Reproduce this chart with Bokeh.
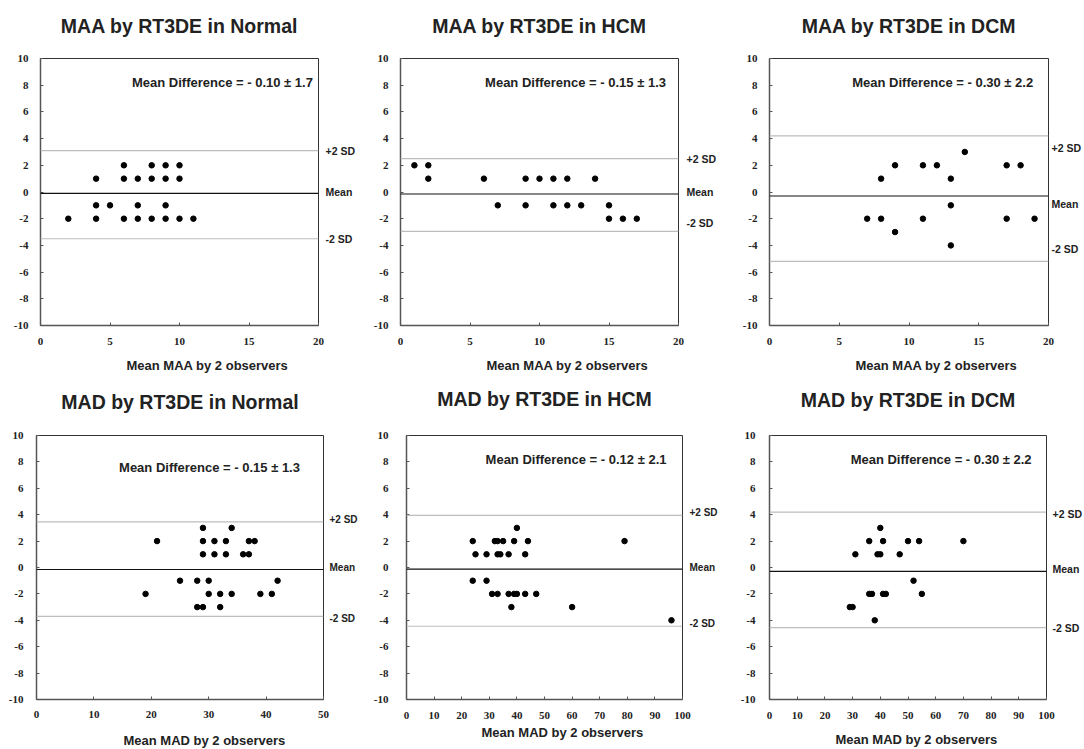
from bokeh.plotting import figure
from bokeh.layouts import column, row
from bokeh.models import Span, Label, Range1d, FixedTicker, LinearAxis, CustomJSTickFormatter, Title
from bokeh.embed import file_html
from bokeh.resources import INLINE

# ---- data: Bland-Altman points (mean of 2 observers, difference) ----
maa_normal_x = [6, 8, 9, 10, 4, 6, 7, 8, 9, 10, 4, 5, 7, 9, 2, 4, 6, 7, 8, 9, 10, 11]
maa_normal_y = [2, 2, 2, 2, 1, 1, 1, 1, 1, 1, -1, -1, -1, -1, -2, -2, -2, -2, -2, -2, -2, -2]

maa_hcm_x = [1, 2, 2, 6, 9, 10, 11, 12, 14, 7, 9, 11, 12, 13, 15, 15, 16, 17]
maa_hcm_y = [2, 2, 1, 1, 1, 1, 1, 1, 1, -1, -1, -1, -1, -1, -1, -2, -2, -2]

maa_dcm_x = [14, 9, 11, 12, 17, 18, 8, 13, 13, 7, 8, 11, 17, 19, 9, 13]
maa_dcm_y = [3, 2, 2, 2, 2, 2, 1, 1, -1, -2, -2, -2, -2, -2, -3, -4]

mad_normal_x = [29, 34, 21, 29, 31, 33, 37, 38, 29, 31, 33, 36, 37,
                25, 28, 30, 42, 19, 30, 32, 34, 39, 41, 28, 29, 32]
mad_normal_y = [3, 3, 2, 2, 2, 2, 2, 2, 1, 1, 1, 1, 1,
                -1, -1, -1, -1, -2, -2, -2, -2, -2, -2, -3, -3, -3]

mad_hcm_x = [40, 24, 32, 33, 35, 39, 44, 79, 25, 29, 33, 34, 37, 43,
             24, 29, 31, 33, 37, 39, 40, 43, 47, 38, 60, 96]
mad_hcm_y = [3, 2, 2, 2, 2, 2, 2, 2, 1, 1, 1, 1, 1, 1,
             -1, -1, -2, -2, -2, -2, -2, -2, -2, -3, -3, -4]

mad_dcm_x = [40, 36, 41, 50, 54, 70, 31, 39, 40, 47, 52, 36, 37, 41, 42, 55, 29, 30, 38]
mad_dcm_y = [3, 2, 2, 2, 2, 2, 1, 1, 1, 1, -1, -2, -2, -2, -2, -2, -3, -3, -4]

# ---- summary statistics ----
titles = ["MAA by RT3DE in Normal", "MAA by RT3DE in HCM", "MAA by RT3DE in DCM",
          "MAD by RT3DE in Normal", "MAD by RT3DE in HCM", "MAD by RT3DE in DCM"]
x_labels = ["Mean MAA by 2 observers"] * 3 + ["Mean MAD by 2 observers"] * 3
mean_diff = [-0.10, -0.15, -0.30, -0.15, -0.12, -0.30]
sd_diff = [1.7, 1.3, 2.2, 1.3, 2.1, 2.2]
upper_limit = [3.1, 2.5, 4.2, 3.45, 3.95, 4.2]
lower_limit = [-3.5, -2.95, -5.2, -3.7, -4.45, -4.55]
side_names = ["+2 SD", "Mean", "-2 SD"]

# ---- axis ticks ----
maa_ticks = [0, 5, 10, 15, 20]
mad_normal_ticks = [0, 10, 20, 30, 40, 50]
mad_ticks = [0, 10, 20, 30, 40, 50, 60, 70, 80, 90, 100]
diff_ticks = [-10, -8, -6, -4, -2, 0, 2, 4, 6, 8, 10]

series = [
    (maa_normal_x, maa_normal_y, maa_ticks),
    (maa_hcm_x, maa_hcm_y, maa_ticks),
    (maa_dcm_x, maa_dcm_y, maa_ticks),
    (mad_normal_x, mad_normal_y, mad_normal_ticks),
    (mad_hcm_x, mad_hcm_y, mad_ticks),
    (mad_dcm_x, mad_dcm_y, mad_ticks),
]

# ---- per-panel geometry and text placement ----
# (width, height, border_left, border_right, border_top, border_bottom)
boxes = [
    (360, 377, 40, 42, 58, 52),
    (360, 377, 40, 42, 58, 52),
    (364, 377, 49, 36, 58, 52),
    (360, 372, 36, 33, 58, 50),
    (360, 372, 46, 37, 58, 50),
    (364, 372, 49, 37, 58, 50),
]
# mean-difference text anchor (right edge x, centre y, data units)
md_pos = [(19.6, 8.2), (19.1, 8.2), (18.9, 8.2), (45.9, 7.55), (94.2, 8.2), (94.6, 8.2)]
# vertical nudge of the side captions (+2 SD, Mean, -2 SD), data units
side_shift = [(0, 0.1, 0), (0, 0.15, 0.6), (-0.9, -0.6, 0.95),
              (0.2, 0.15, -0.15), (0.2, 0.1, 0.2), (-0.15, 0.2, 0)]
# side caption gap from frame (px) and font size (px)
side_gap = [7, 8, 3, 6, 7, 6]
side_fs = [10.5, 10.5, 10.5, 10, 10, 10.5]
# (x tick standoff, y tick standoff, gap above title, gap above x caption, x caption left offset)
spacing = [(12, 12, 17, 7, 86), (12, 12, 17, 7, 86), (12, 12, 17, 7, 86),
           (11, 13, 18, 9, 87), (12, 18, 21, 0, 75), (12, 14, 20, 7, 66)]

SANS = "Liberation Sans"
SERIF = "Liberation Serif"
INK = "#222222"

side_formatter_code = """
let best = -1, bestd = 1e9;
for (let k = 0; k < spots.length; k++) {
    const d = Math.abs(spots[k] - tick);
    if (d < bestd) { bestd = d; best = k; }
}
return bestd < 1e-6 ? names[best] : "";
"""


def gap(size):
    """Blank strip used to push a caption away from the frame."""
    return Title(text="\u00a0", text_font_size="1px", standoff=size)


figs = []
for i, (xs, ys, xticks) in enumerate(series):
    w, h, bl, br, bt, bb = boxes[i]
    p = figure(width=w, height=h, output_backend="svg", toolbar_location=None,
               x_range=Range1d(xticks[0], xticks[-1]), y_range=Range1d(-10, 10),
               min_border_left=bl, min_border_right=br,
               min_border_top=bt, min_border_bottom=bb)
    p.background_fill_color = "white"
    p.border_fill_color = "white"
    p.outline_line_color = "#333333"
    p.outline_line_width = 1
    p.xgrid.visible = False
    p.ygrid.visible = False

    xstand, ystand, title_gap, cap_gap, capoff = spacing[i]

    p.add_layout(gap(title_gap), "above")
    p.title.text = titles[i]
    p.title.align = "center"
    p.title.vertical_align = "top"
    p.title.text_font = SANS
    p.title.text_font_size = "19.5px"
    p.title.text_font_style = "bold"
    p.title.text_color = INK
    p.title.standoff = 0

    p.xaxis.ticker = FixedTicker(ticks=xticks)
    p.yaxis.ticker = FixedTicker(ticks=diff_ticks)
    p.xaxis.major_label_overrides = {t: str(t) for t in xticks}
    p.yaxis.major_label_overrides = {t: str(t) for t in diff_ticks}
    for ax in (p.xaxis, p.yaxis):
        ax.axis_line_color = "#555555"
        ax.axis_line_width = 1.5
        ax.major_tick_line_color = "#555555"
        ax.major_tick_in = 3
        ax.major_tick_out = 0
        ax.minor_tick_line_color = None
        ax.major_label_text_font = SERIF
        ax.major_label_text_font_style = "bold"
        ax.major_label_text_font_size = "11px"
        ax.major_label_text_color = INK
    p.xaxis.major_label_standoff = xstand
    p.yaxis.major_label_standoff = ystand

    # x caption under the tick labels, a little right of centre
    p.add_layout(gap(cap_gap), "below")
    p.add_layout(Title(text=x_labels[i], align="left", offset=capoff,
                       vertical_align="top", standoff=0,
                       text_font=SANS, text_font_style="bold",
                       text_font_size="13px", text_color=INK), "below")

    # limits of agreement and mean line
    p.add_layout(Span(location=upper_limit[i], dimension="width",
                      line_color="#bdbdbd", line_width=1.2))
    p.add_layout(Span(location=lower_limit[i], dimension="width",
                      line_color="#bdbdbd", line_width=1.2))
    p.add_layout(Span(location=mean_diff[i], dimension="width",
                      line_color="#111111", line_width=1.2))

    p.scatter(xs, ys, size=5.5, color="black")

    mx, my = md_pos[i]
    p.add_layout(Label(x=mx, y=my,
                       text=f"Mean Difference = - {abs(mean_diff[i]):.2f} \u00b1 {sd_diff[i]}",
                       text_align="right", text_baseline="middle",
                       text_font=SANS, text_font_style="bold",
                       text_font_size="13px", text_color=INK))

    # captions beside the frame for the three reference lines
    su, sm, sl = side_shift[i]
    spots = [upper_limit[i] + su, mean_diff[i] + sm, lower_limit[i] + sl]
    side = LinearAxis(ticker=FixedTicker(ticks=spots),
                      formatter=CustomJSTickFormatter(args=dict(spots=spots, names=side_names),
                                                      code=side_formatter_code))
    side.axis_line_color = None
    side.major_tick_line_color = None
    side.minor_tick_line_color = None
    side.major_tick_in = 0
    side.major_tick_out = 0
    side.major_label_standoff = side_gap[i]
    side.major_label_text_font = SANS
    side.major_label_text_font_style = "bold"
    side.major_label_text_font_size = f"{side_fs[i]}px"
    side.major_label_text_color = INK
    p.add_layout(side, "right")

    figs.append(p)

layout = column(row(*figs[:3]), row(*figs[3:]))
open("out.html", "w").write(file_html(layout, INLINE))
